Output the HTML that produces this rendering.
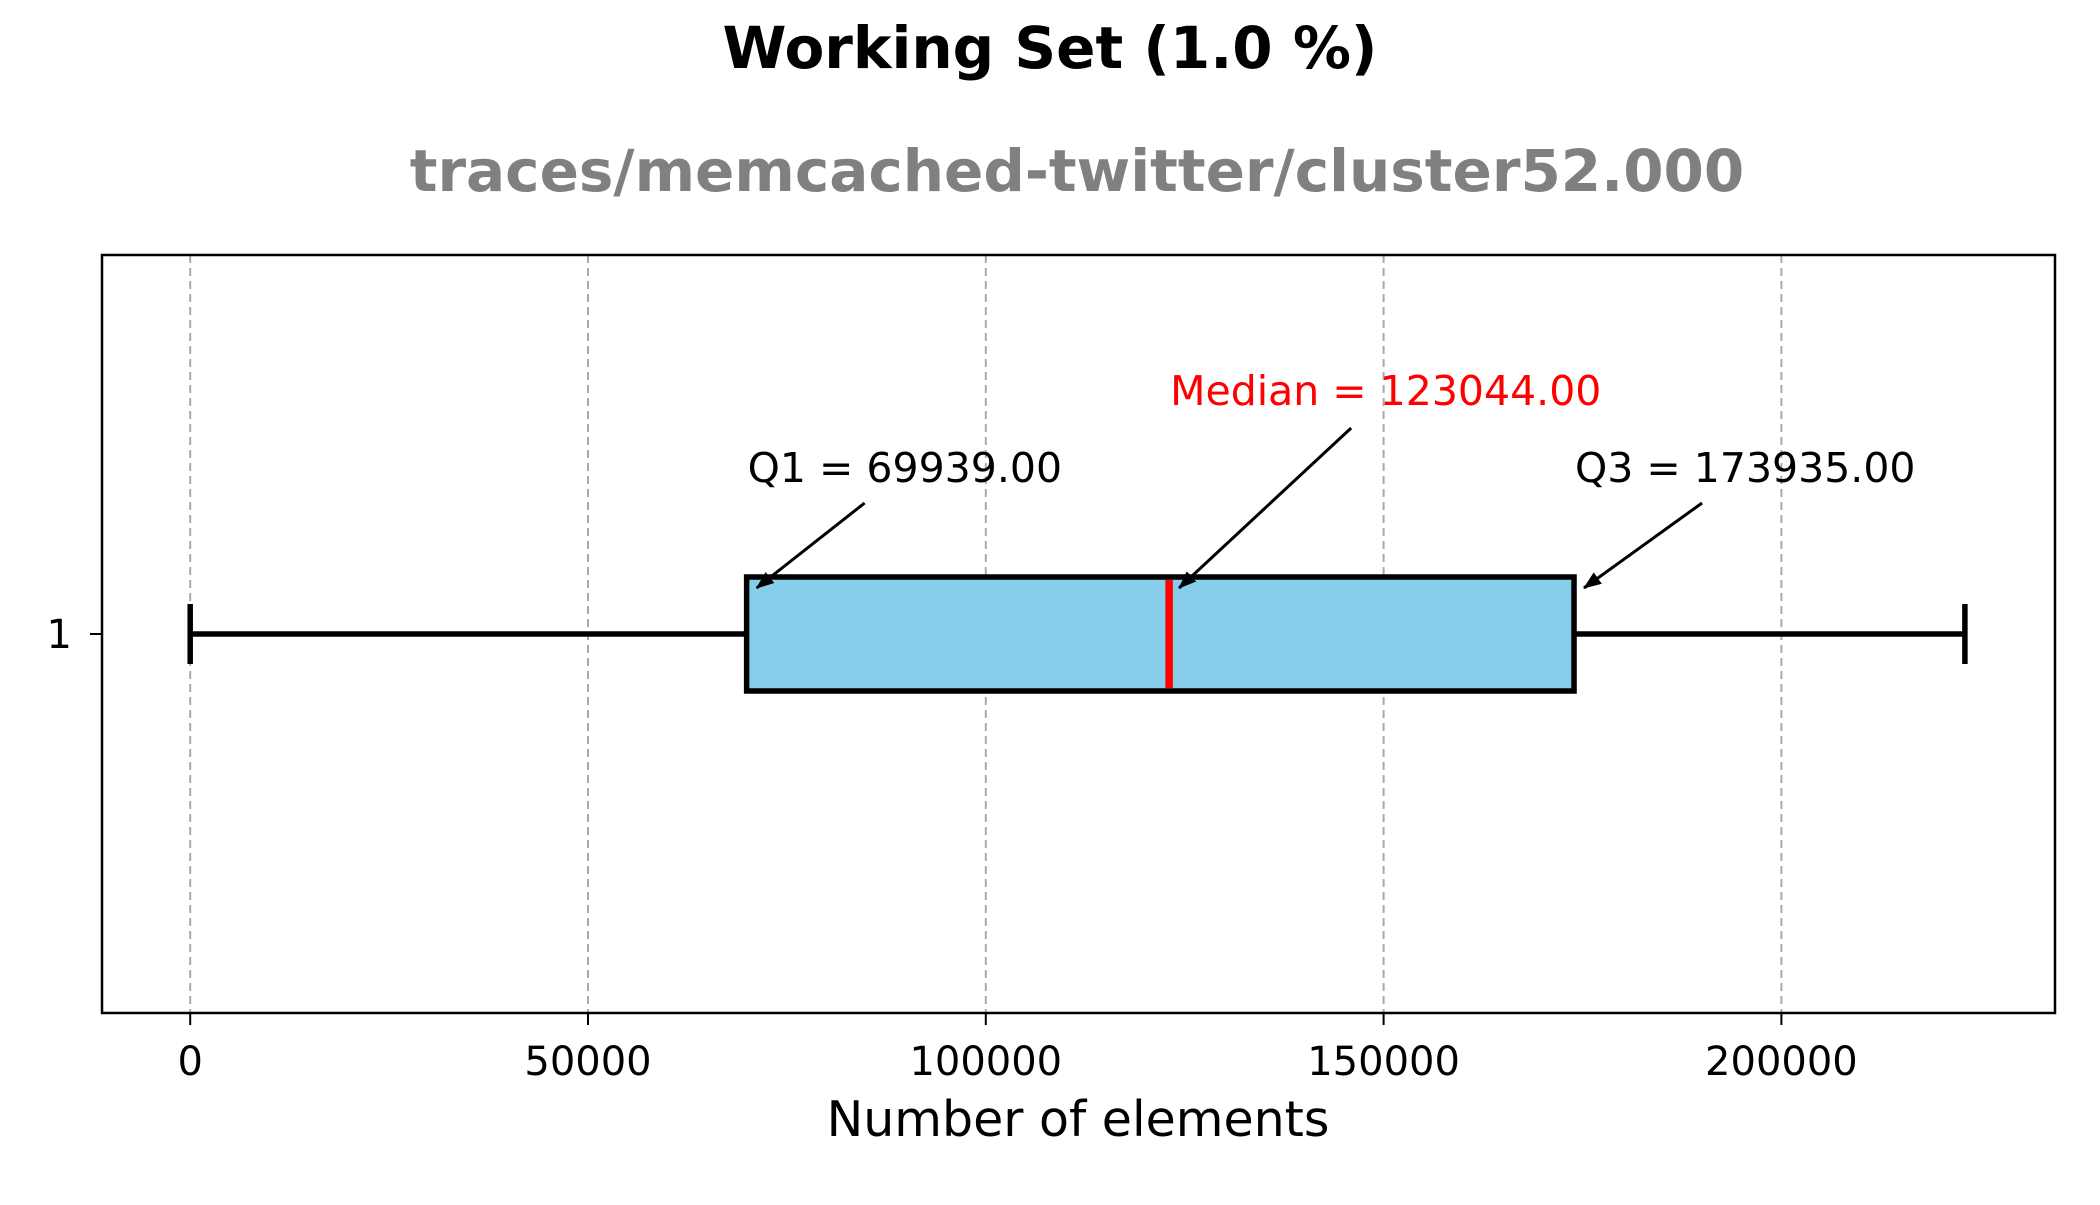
<!DOCTYPE html>
<html><head><meta charset="utf-8"><style>
html,body{margin:0;padding:0;background:#fff;}
svg text{font-family:"DejaVu Sans","Liberation Sans",sans-serif;}
</style></head><body>
<svg id="chart" width="2100" height="1200" xmlns="http://www.w3.org/2000/svg">
<rect x="0" y="0" width="2100" height="1200" fill="#fff"/>
<text x="1050" y="68" text-anchor="middle" font-size="58" font-weight="bold">Working Set (1.0 %)</text>
<text x="1077" y="191" text-anchor="middle" font-size="58" font-weight="bold" fill="#808080">traces/memcached-twitter/cluster52.000</text>
<g id="grid"></g>
<g id="marks"></g>
<rect x="102" y="255" width="1953" height="758" fill="none" stroke="#000" stroke-width="2.5"/>
<text x="1078" y="1136" text-anchor="middle" font-size="49">Number of elements</text>
<line x1="90" y1="634" x2="102" y2="634" stroke="#000" stroke-width="2"/>
<text x="72" y="648" text-anchor="end" font-size="40">1</text>
</svg>
<script>
const xTicks = [0, 50000, 100000, 150000, 200000];
const stats = [0, 69939, 123044, 173935, 223064]; // min, q1, median, q3, max
const labels = ["Q1 = 69939.00", "Median = 123044.00", "Q3 = 173935.00"];
const ns = "http://www.w3.org/2000/svg";
const x = v => 190.2 + v / 50000 * 397.8;
const yc = 634, bt = 577, bb = 691;
function mk(parent, tag, attrs) {
  const e = document.createElementNS(ns, tag);
  for (const k in attrs) e.setAttribute(k, attrs[k]);
  parent.appendChild(e); return e;
}
const svg = document.getElementById('chart');
const grid = document.getElementById('grid');
const marks = document.getElementById('marks');
const defs = mk(svg, 'defs', {});
const mrk = mk(defs, 'marker', {id: 'ah', markerWidth: 18, markerHeight: 14, refX: 17, refY: 7, orient: 'auto', markerUnits: 'userSpaceOnUse'});
mk(mrk, 'path', {d: 'M0,0 L18,7 L0,14 z', fill: '#000'});
xTicks.forEach(t => {
  const g = mk(grid, 'line', {x1: x(t), x2: x(t), y1: 255, y2: 1013, stroke: '#aaa', 'stroke-width': 2, 'stroke-dasharray': '8,5'});
  
  
  const tk = mk(svg, 'line', {x1: x(t), x2: x(t), y1: 1013, y2: 1025, stroke: '#000', 'stroke-width': 2});
  
  
  const tl = mk(svg, 'text', {x: x(t), y: 1075, 'text-anchor': 'middle', 'font-size': 40});
  tl.textContent = t;
  
  
});
const [mn, q1, med, q3, mx] = stats;
const w1 = mk(marks, 'line', {x1: x(mn), x2: x(q1), y1: yc, y2: yc, stroke: '#000', 'stroke-width': 5.5});


const w2 = mk(marks, 'line', {x1: x(q3), x2: x(mx), y1: yc, y2: yc, stroke: '#000', 'stroke-width': 5.5});


[mn, mx].forEach(v => {
  const c = mk(marks, 'line', {x1: x(v), x2: x(v), y1: yc - 30, y2: yc + 30, stroke: '#000', 'stroke-width': 5.5});
  
  
});
const box = mk(marks, 'rect', {x: x(q1), y: bt, width: x(q3) - x(q1), height: bb - bt, fill: '#87ceeb', stroke: '#000', 'stroke-width': 5.5});


const ml = mk(marks, 'line', {x1: x(med), x2: x(med), y1: bt + 3, y2: bb - 3, stroke: '#f00', 'stroke-width': 7.5});


const ann = [
  {ty: 482, ax: 118, ay: 503, c: '#000', n: 'q1'},
  {ty: 405, ax: 182, ay: 428, c: '#f00', n: 'median'},
  {ty: 482, ax: 128, ay: 503, c: '#000', n: 'q3'}
];
const annVals = [q1, med, q3];
ann.forEach((a, i) => {
  const px = x(annVals[i]);
  const ar = mk(marks, 'line', {x1: px + a.ax, y1: a.ay, x2: px + 10, y2: bt + 11, stroke: '#000', 'stroke-width': 3, 'marker-end': 'url(#ah)'});
  
  
  const t = mk(marks, 'text', {x: px + 1, y: a.ty, 'font-size': 41, fill: a.c});
  t.textContent = labels[i];
  
  
});
</script>
</body></html>
